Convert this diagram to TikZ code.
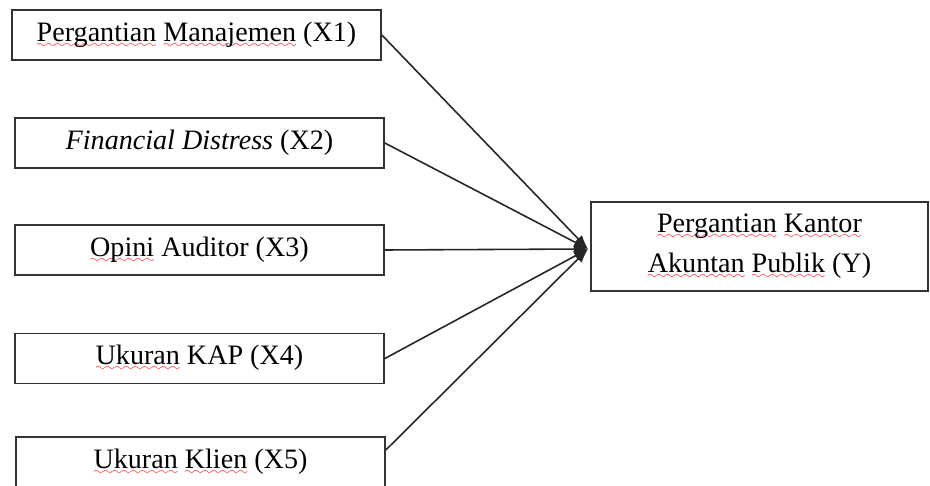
\documentclass[tikz,border=0pt]{standalone}
\usepackage{fontspec}
\setmainfont{Liberation Serif}
\usetikzlibrary{arrows.meta,positioning}
\font\wavefont=lasy6
\newcommand{\redwave}[1]{\setbox0\hbox{#1}\leavevmode\rlap{\textcolor{red}{\lower3.5pt\hbox to\wd0{\xleaders\hbox{\wavefont\char58}\hfil}}}\box0\relax}
\tikzset{font=\fontsize{16}{22.8}\selectfont}
\tikzstyle{varbox}=[draw=black!80,line width=1pt,minimum width=7.38cm,minimum height=1cm,inner sep=0pt,text height=11pt,text depth=4pt]
\tikzstyle{ybox}=[draw=black!80,line width=1pt,minimum width=6.74cm,minimum height=1.78cm,inner sep=0pt,align=center]

\begin{document}
\begin{tikzpicture}[x=0.02cm,y=-0.02cm]
\clip (0,0) rectangle (930,486);
\node[varbox] (X1) at (196.5,35) {\redwave{Pergantian} \redwave{Manajemen} (X1)};
\node[varbox] (X2) at (199.5,143) {\textit{Financial Distress} (X2)};
\node[varbox] (X3) at (199.5,250) {\redwave{Opini} Auditor (X3)};
\node[varbox] (X4) at (199.5,358.5) {\redwave{Ukuran} KAP (X4)};
\node[varbox] (X5) at (200.5,462) {\redwave{Ukuran} \redwave{Klien} (X5)};
\node[ybox] (Y) at (759.5,246.5) {\redwave{Pergantian} \redwave{Kantor}\\ \redwave{Akuntan} \redwave{Publik} (Y)};
\coordinate (in) at (588,249);
\path[-{Latex[length=8pt,width=6pt]},line width=0.9pt,color=black!85]
(X1.east) edge (in)
(X2.east) edge (in)
(X3.east) edge (in)
(X4.east) edge (in)
([yshift=0.24cm]X5.east) edge (in);
\end{tikzpicture}
\end{document}
